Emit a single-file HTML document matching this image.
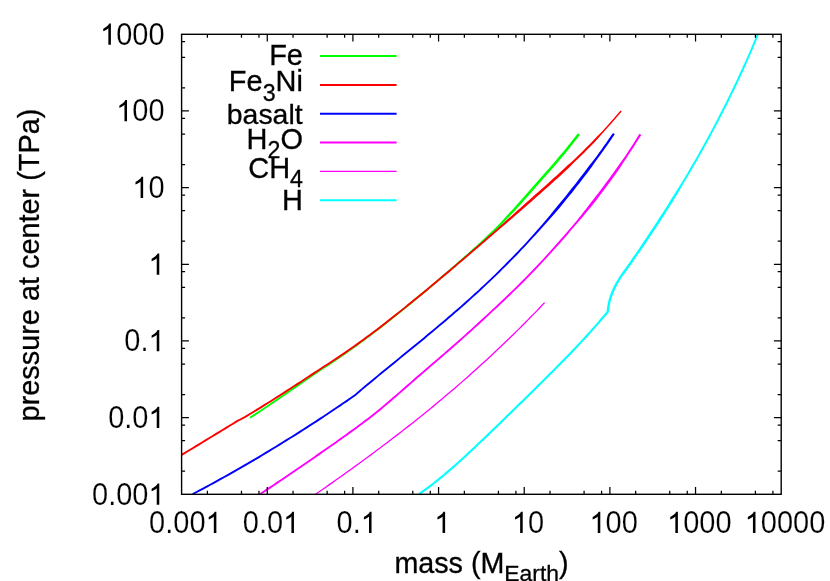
<!DOCTYPE html>
<html><head><meta charset="utf-8"><title>pressure at center vs mass</title>
<style>
html,body{margin:0;padding:0;background:#fff;}
body{width:830px;height:581px;overflow:hidden;}
svg{display:block;will-change:transform;}
text{font-family:"Liberation Sans",sans-serif;fill:#000;stroke:#000;stroke-width:0.3px;}
text.t{stroke:#fff;stroke-width:0.15px;}
</style></head><body>
<svg width="830" height="581" viewBox="0 0 830 581">
<rect x="0" y="0" width="830" height="581" fill="#ffffff"/>
<defs><clipPath id="pc"><rect x="181.60" y="34.30" width="599.60" height="460.00"/></clipPath></defs>
<g clip-path="url(#pc)">
<path d="M250.5 418.6 253.9 416.4 257.2 414.2 260.6 412.0 263.9 409.8 267.2 407.6 270.6 405.3 273.9 403.1 277.2 400.8 280.5 398.6 283.8 396.3 287.1 394.0 290.4 391.8 293.7 389.5 297.0 387.2 300.3 384.9 303.6 382.6 306.9 380.3 310.2 378.1 313.5 375.8 316.8 373.6 320.1 371.3 323.4 369.1 326.8 366.9 330.1 364.7 333.4 362.4 336.8 360.2 340.1 357.9 343.4 355.7 346.7 353.4 350.0 351.1 353.3 348.8 356.5 346.4 359.8 344.1 363.0 341.7 366.2 339.3 369.4 336.9 372.6 334.5 375.8 332.1 379.0 329.7 382.2 327.2 385.4 324.7 388.5 322.3 391.7 319.8 394.8 317.3 397.9 314.8 401.1 312.3 404.2 309.8 407.3 307.2 410.4 304.7 413.5 302.2 416.6 299.6 419.7 297.0 422.8 294.5 425.8 291.9 428.9 289.3 432.0 286.7 435.0 284.2 438.1 281.6 441.1 279.0 444.2 276.4 447.2 273.8 450.3 271.2 453.3 268.5 456.3 265.9 459.4 263.3 462.4 260.6 465.4 258.0 468.4 255.3 471.4 252.7 474.4 250.0 477.4 247.3 480.3 244.6 483.3 241.9 486.3 239.3 489.2 236.5 492.2 233.8 495.1 231.1 498.0 228.3 500.9 225.4 503.7 222.5 506.4 219.6 509.2 216.7 511.9 213.8 514.7 210.9 517.4 207.9 520.1 204.9 522.7 201.9 525.4 199.0 528.1 196.0 530.7 193.0 533.4 189.9 536.0 186.9 538.6 183.9 541.3 180.9 543.9 177.9 546.6 174.9 549.3 171.9 551.9 168.9 554.6 165.9 557.2 162.9 559.8 159.8 562.4 156.7 565.0 153.7 567.5 150.6 570.0 147.4 572.5 144.3 575.0 141.1 577.5 138.0 579.9 134.8 577.9 133.2 575.4 136.4 573.0 139.5 570.5 142.7 568.0 145.8 565.5 148.9 563.0 152.0 560.4 155.1 557.8 158.1 555.2 161.2 552.6 164.2 550.0 167.2 547.3 170.2 544.6 173.2 542.0 176.2 539.3 179.2 536.7 182.2 534.0 185.2 531.4 188.2 528.8 191.2 526.1 194.2 523.5 197.2 520.8 200.2 518.1 203.2 515.5 206.2 512.8 209.2 510.1 212.1 507.4 215.1 504.7 218.1 502.0 221.0 499.3 223.9 496.5 226.8 493.7 229.6 490.8 232.3 487.9 235.1 485.0 237.8 482.0 240.5 479.1 243.2 476.1 245.9 473.1 248.6 470.1 251.3 467.1 253.9 464.1 256.6 461.1 259.2 458.1 261.8 455.1 264.5 452.1 267.1 449.0 269.7 446.0 272.3 442.9 274.9 439.9 277.5 436.9 280.1 433.8 282.7 430.7 285.3 427.7 287.9 424.6 290.5 421.5 293.0 418.5 295.6 415.4 298.1 412.3 300.7 409.2 303.2 406.1 305.8 403.0 308.3 399.9 310.8 396.8 313.3 393.6 315.8 390.5 318.3 387.3 320.8 384.2 323.2 381.0 325.7 377.9 328.1 374.7 330.6 371.5 333.0 368.3 335.4 365.1 337.8 361.9 340.2 358.6 342.5 355.4 344.9 352.2 347.2 348.9 349.5 345.6 351.8 342.3 354.1 339.0 356.4 335.7 358.6 332.4 360.9 329.1 363.1 325.7 365.3 322.4 367.5 319.1 369.8 315.7 372.0 312.4 374.2 309.1 376.5 305.8 378.8 302.5 381.1 299.2 383.3 295.9 385.6 292.6 387.9 289.3 390.2 286.0 392.5 282.7 394.7 279.4 397.0 276.1 399.3 272.8 401.5 269.5 403.7 266.2 406.0 262.9 408.2 259.5 410.4 256.2 412.6 252.8 414.8 249.5 417.0Z" fill="#00ff00"/>
<path d="M182.1 455.8 185.5 453.7 188.9 451.6 192.4 449.5 195.8 447.4 199.2 445.4 202.6 443.3 206.0 441.2 209.5 439.1 212.9 437.0 216.3 435.0 219.7 432.9 223.1 430.8 226.6 428.7 230.0 426.6 233.4 424.5 236.8 422.5 238.0 421.8 240.3 420.6 243.8 418.7 244.6 418.3 247.3 416.7 250.8 414.6 254.2 412.6 257.6 410.5 261.0 408.4 264.4 406.3 267.8 404.1 271.2 402.0 274.6 399.8 278.0 397.7 281.4 395.5 284.7 393.4 288.1 391.2 291.4 389.0 294.8 386.8 298.2 384.7 301.5 382.5 304.9 380.3 308.2 378.1 311.6 375.9 314.9 373.7 318.3 371.5 321.6 369.3 325.0 367.1 328.3 365.0 331.7 362.8 335.0 360.6 338.4 358.4 341.7 356.1 345.0 353.9 348.3 351.6 351.6 349.3 354.9 347.0 358.2 344.7 361.4 342.3 364.7 340.0 367.9 337.6 371.1 335.2 374.3 332.8 377.5 330.4 380.7 328.0 383.9 325.5 387.0 323.1 390.2 320.6 393.3 318.1 396.5 315.6 399.6 313.1 402.7 310.6 405.9 308.1 409.0 305.6 412.1 303.1 415.2 300.6 418.3 298.0 421.4 295.5 424.5 292.9 427.6 290.4 430.6 287.8 433.7 285.3 436.8 282.7 439.9 280.1 442.9 277.5 446.0 275.0 449.1 272.4 452.1 269.8 455.2 267.2 458.2 264.6 461.3 262.0 464.3 259.4 467.4 256.8 470.4 254.2 473.5 251.6 476.5 249.0 479.5 246.4 482.6 243.8 485.6 241.2 488.6 238.6 491.7 235.9 494.7 233.3 497.7 230.7 500.7 228.1 503.8 225.5 506.8 222.9 509.9 220.3 512.9 217.7 515.9 215.0 519.0 212.4 522.0 209.8 525.0 207.2 528.0 204.5 531.0 201.9 534.0 199.2 537.0 196.6 540.0 193.9 543.0 191.3 546.0 188.6 549.0 185.9 552.0 183.2 554.9 180.6 557.9 177.9 560.9 175.2 563.8 172.4 566.8 169.7 569.7 167.0 572.5 164.1 575.3 161.3 578.2 158.5 581.1 155.7 584.0 152.9 586.8 150.1 589.6 147.2 592.4 144.4 595.2 141.5 598.0 138.6 600.6 135.5 603.2 132.5 605.9 129.5 608.6 126.6 611.3 123.6 613.9 120.5 616.5 117.5 619.1 114.4 621.7 111.4 620.5 110.4 618.0 113.5 615.4 116.5 612.8 119.6 610.1 122.6 607.5 125.6 604.8 128.5 602.1 131.5 599.3 134.3 596.5 137.1 593.7 140.0 590.9 142.9 588.1 145.8 585.3 148.6 582.5 151.4 579.6 154.2 576.8 157.0 573.9 159.8 570.9 162.5 567.9 165.1 565.0 167.8 562.1 170.5 559.1 173.2 556.2 175.9 553.2 178.6 550.2 181.3 547.3 184.0 544.3 186.7 541.3 189.3 538.3 192.0 535.3 194.6 532.3 197.3 529.3 199.9 526.3 202.6 523.3 205.2 520.3 207.9 517.3 210.6 514.4 213.3 511.4 215.9 508.4 218.6 505.4 221.3 502.5 223.9 499.5 226.6 496.5 229.3 493.4 231.9 490.4 234.5 487.4 237.1 484.4 239.7 481.3 242.4 478.3 245.0 475.3 247.6 472.2 250.2 469.2 252.8 466.1 255.4 463.1 258.0 460.1 260.6 457.0 263.2 454.0 265.8 450.9 268.4 447.8 270.9 444.8 273.5 441.7 276.1 438.6 278.7 435.6 281.2 432.5 283.8 429.4 286.4 426.3 288.9 423.3 291.5 420.2 294.0 417.1 296.5 414.0 299.1 410.9 301.6 407.8 304.1 404.7 306.7 401.6 309.2 398.4 311.7 395.3 314.1 392.2 316.6 389.0 319.1 385.9 321.6 382.7 324.0 379.5 326.4 376.3 328.9 373.2 331.3 370.0 333.7 366.7 336.1 363.5 338.4 360.3 340.8 357.1 343.1 353.8 345.5 350.5 347.8 347.2 350.0 344.0 352.3 340.6 354.5 337.3 356.8 334.0 359.0 330.6 361.2 327.3 363.4 323.9 365.6 320.6 367.7 317.2 369.9 313.9 372.1 310.5 374.3 307.2 376.5 303.8 378.7 300.5 380.9 297.1 383.1 293.8 385.2 290.4 387.4 287.1 389.6 283.7 391.8 280.3 393.9 277.0 396.1 273.6 398.2 270.2 400.4 266.8 402.5 263.4 404.6 260.0 406.7 256.6 408.8 253.2 410.9 249.8 413.0 246.4 415.1 243.6 416.7 242.9 417.0 239.4 418.9 237.0 420.1 235.8 420.8 232.4 422.9 229.0 425.0 225.6 427.1 222.1 429.2 218.7 431.3 215.3 433.3 211.9 435.4 208.5 437.5 205.0 439.6 201.6 441.7 198.2 443.7 194.8 445.8 191.4 447.9 187.9 450.0 184.5 452.1 181.1 454.1Z" fill="#ff0000"/>
<path d="M193.0 495.0 196.6 493.1 200.1 491.3 203.6 489.4 207.2 487.5 210.7 485.6 214.2 483.7 217.7 481.7 221.2 479.8 224.7 477.8 228.2 475.9 231.7 473.9 235.2 471.9 238.6 470.0 242.1 468.0 245.6 466.0 249.0 464.0 252.5 461.9 255.9 459.9 259.4 457.9 262.8 455.8 266.3 453.8 269.7 451.7 273.1 449.6 276.5 447.5 279.9 445.4 283.3 443.3 286.7 441.2 290.1 439.1 293.5 437.0 296.9 434.9 300.3 432.7 303.7 430.6 307.0 428.4 310.4 426.2 313.8 424.1 317.1 421.9 320.5 419.7 323.8 417.5 327.1 415.3 330.5 413.1 333.8 410.8 337.1 408.6 340.4 406.4 343.7 404.1 347.1 401.9 350.4 399.6 353.6 397.3 356.3 395.4 356.9 394.8 359.9 392.2 362.9 389.6 366.0 387.0 369.1 384.5 372.2 381.9 375.2 379.4 378.3 376.8 381.4 374.3 384.5 371.8 387.6 369.2 390.7 366.7 393.8 364.2 396.9 361.7 400.0 359.1 403.1 356.6 406.2 354.1 409.3 351.5 412.4 349.0 415.5 346.5 418.6 343.9 421.7 341.4 424.8 338.9 427.8 336.3 430.9 333.8 434.0 331.2 437.1 328.6 440.1 326.1 443.2 323.5 446.2 320.9 449.3 318.3 452.3 315.7 455.3 313.1 458.4 310.4 461.4 307.8 464.4 305.2 467.4 302.5 470.4 299.8 473.3 297.1 476.3 294.5 479.3 291.8 482.2 289.0 485.1 286.3 488.0 283.6 490.9 280.8 493.8 278.0 496.7 275.3 499.6 272.5 502.4 269.6 505.3 266.8 508.1 264.0 510.9 261.1 513.7 258.3 516.5 255.4 519.3 252.5 522.0 249.6 524.8 246.7 527.5 243.7 530.2 240.8 532.9 237.8 535.6 234.9 538.3 231.9 540.9 228.9 543.6 225.9 546.3 223.0 549.0 220.0 551.6 217.0 554.3 214.0 556.9 211.0 559.5 207.9 562.1 204.8 564.6 201.7 567.1 198.6 569.6 195.5 572.2 192.4 574.6 189.3 577.1 186.1 579.6 182.9 582.0 179.8 584.5 176.6 586.9 173.4 589.3 170.2 591.7 167.0 593.9 163.7 596.2 160.4 598.6 157.2 601.0 153.9 603.3 150.7 605.6 147.4 607.9 144.2 610.2 140.9 612.5 137.6 614.8 134.3 613.0 133.1 610.7 136.3 608.4 139.6 606.1 142.9 603.8 146.1 601.5 149.4 599.2 152.6 596.8 155.9 594.5 159.1 592.0 162.3 589.5 165.3 587.1 168.5 584.7 171.7 582.2 174.9 579.8 178.1 577.4 181.2 574.9 184.4 572.4 187.5 570.0 190.6 567.5 193.8 565.0 196.9 562.4 200.0 559.9 203.1 557.4 206.1 554.8 209.2 552.3 212.3 549.8 215.4 547.2 218.5 544.7 221.6 542.1 224.6 539.5 227.6 536.8 230.6 534.2 233.6 531.5 236.6 528.8 239.5 526.1 242.5 523.4 245.4 520.6 248.3 517.9 251.2 515.1 254.1 512.3 256.9 509.5 259.8 506.7 262.6 503.9 265.5 501.1 268.3 498.3 271.1 495.4 273.9 492.5 276.7 489.6 279.4 486.7 282.2 483.8 284.9 480.9 287.6 478.0 290.4 475.0 293.1 472.1 295.7 469.1 298.4 466.1 301.1 463.1 303.7 460.1 306.4 457.1 309.0 454.1 311.6 451.1 314.2 448.0 316.8 445.0 319.4 442.0 322.0 438.9 324.6 435.8 327.2 432.8 329.7 429.7 332.3 426.6 334.8 423.6 337.4 420.5 339.9 417.4 342.5 414.3 345.0 411.2 347.5 408.1 350.1 405.0 352.6 401.9 355.1 398.8 357.7 395.7 360.2 392.6 362.7 389.5 365.2 386.4 367.8 383.3 370.3 380.2 372.8 377.1 375.4 374.0 377.9 370.9 380.5 367.9 383.0 364.8 385.6 361.7 388.2 358.7 390.7 355.6 393.4 355.1 393.9 352.5 395.7 349.3 398.0 346.0 400.3 342.7 402.5 339.4 404.8 336.1 407.0 332.7 409.3 329.4 411.5 326.1 413.7 322.8 415.9 319.4 418.1 316.1 420.3 312.7 422.5 309.4 424.6 306.0 426.8 302.6 429.0 299.3 431.1 295.9 433.3 292.5 435.4 289.1 437.5 285.7 439.6 282.3 441.7 278.9 443.8 275.5 445.9 272.1 448.0 268.7 450.1 265.3 452.1 261.8 454.2 258.4 456.2 255.0 458.3 251.5 460.3 248.1 462.3 244.6 464.3 241.2 466.3 237.7 468.3 234.2 470.3 230.7 472.3 227.3 474.2 223.8 476.2 220.3 478.1 216.8 480.1 213.3 482.0 209.8 483.9 206.3 485.8 202.7 487.7 199.2 489.6 195.7 491.5 192.2 493.3Z" fill="#0000ff"/>
<path d="M260.8 494.8 264.2 492.6 267.5 490.4 270.8 488.2 274.1 485.9 277.5 483.7 280.8 481.5 284.1 479.3 287.4 477.0 290.7 474.8 294.0 472.5 297.3 470.3 300.6 468.0 303.9 465.8 307.2 463.5 310.5 461.2 313.8 458.9 317.0 456.7 320.3 454.4 323.6 452.1 326.9 449.8 330.1 447.5 333.4 445.2 336.7 442.9 340.0 440.6 343.2 438.3 346.5 436.0 349.7 433.7 353.0 431.3 356.2 429.0 359.4 426.6 362.6 424.2 365.8 421.8 369.0 419.4 372.1 416.9 375.3 414.4 378.4 411.9 381.5 409.4 384.6 406.8 387.6 404.2 390.7 401.7 393.7 399.1 396.7 396.4 399.7 393.8 402.7 391.2 405.8 388.6 408.8 385.9 411.8 383.3 414.8 380.7 417.8 378.1 420.8 375.5 423.8 372.8 426.9 370.2 429.9 367.6 432.9 365.0 435.9 362.4 439.0 359.8 442.0 357.2 445.0 354.6 448.0 352.0 451.0 349.4 454.1 346.7 457.1 344.1 460.1 341.4 463.0 338.8 466.0 336.1 469.0 333.5 472.0 330.8 474.9 328.1 477.9 325.4 480.8 322.7 483.8 320.0 486.7 317.3 489.6 314.6 492.5 311.8 495.5 309.1 498.4 306.4 501.3 303.6 504.2 300.9 507.1 298.1 510.0 295.4 512.8 292.6 515.7 289.8 518.6 287.0 521.4 284.2 524.2 281.4 527.0 278.5 529.8 275.7 532.6 272.8 535.4 269.9 538.1 267.0 540.9 264.1 543.6 261.1 546.3 258.2 549.0 255.3 551.7 252.3 554.4 249.3 557.0 246.4 559.7 243.4 562.3 240.4 565.0 237.4 567.6 234.4 570.2 231.3 572.8 228.3 575.4 225.3 578.0 222.2 580.6 219.2 583.2 216.2 585.8 213.1 588.3 210.0 590.9 206.9 593.4 203.8 595.9 200.7 598.3 197.5 600.7 194.3 603.2 191.1 605.5 187.9 607.9 184.7 610.3 181.5 612.6 178.2 615.0 175.0 617.3 171.7 619.6 168.4 621.8 165.1 623.9 161.7 626.1 158.4 628.3 155.0 630.5 151.7 632.7 148.4 634.9 145.0 637.0 141.6 639.2 138.2 641.3 134.9 639.5 133.7 637.4 137.1 635.3 140.5 633.1 143.9 631.0 147.2 628.8 150.5 626.6 153.9 624.4 157.2 622.1 160.5 619.7 163.7 617.4 166.9 615.1 170.2 612.8 173.4 610.4 176.7 608.1 179.9 605.8 183.1 603.4 186.3 601.0 189.5 598.6 192.7 596.2 195.8 593.7 199.0 591.3 202.1 588.8 205.3 586.4 208.4 583.9 211.6 581.5 214.7 579.0 217.8 576.5 220.9 573.9 224.0 571.4 227.1 568.8 230.1 566.2 233.1 563.6 236.1 560.9 239.1 558.3 242.1 555.6 245.1 553.0 248.1 550.3 251.0 547.6 254.0 544.9 256.9 542.2 259.9 539.5 262.8 536.7 265.7 534.0 268.6 531.2 271.5 528.5 274.3 525.7 277.2 522.9 280.0 520.1 282.8 517.2 285.7 514.4 288.5 511.5 291.2 508.6 294.0 505.8 296.8 502.9 299.5 500.0 302.3 497.1 305.0 494.2 307.7 491.2 310.4 488.3 313.2 485.4 315.9 482.5 318.6 479.5 321.3 476.6 324.0 473.6 326.7 470.7 329.4 467.7 332.0 464.8 334.7 461.8 337.4 458.8 340.0 455.8 342.7 452.8 345.3 449.8 347.9 446.8 350.5 443.8 353.2 440.7 355.8 437.7 358.4 434.7 361.0 431.7 363.6 428.6 366.2 425.6 368.8 422.6 371.4 419.6 374.0 416.5 376.6 413.5 379.3 410.5 381.9 407.5 384.5 404.5 387.1 401.5 389.8 398.5 392.4 395.5 395.0 392.5 397.6 389.4 400.2 386.4 402.8 383.3 405.4 380.3 407.9 377.2 410.4 374.1 412.9 370.9 415.4 367.8 417.9 364.6 420.3 361.5 422.7 358.3 425.1 355.1 427.4 351.8 429.8 348.6 432.1 345.4 434.5 342.1 436.8 338.9 439.1 335.6 441.4 332.3 443.7 329.1 446.0 325.8 448.3 322.5 450.5 319.2 452.8 316.0 455.1 312.7 457.4 309.4 459.7 306.1 461.9 302.8 464.2 299.5 466.4 296.2 468.7 292.9 471.0 289.6 473.2 286.3 475.5 283.0 477.7 279.7 479.9 276.4 482.1 273.1 484.4 269.8 486.6 266.4 488.8 263.1 491.0 259.8 493.2Z" fill="#ff00ff"/>
<path d="M316.0 494.8 319.2 492.6 322.5 490.3 325.8 488.0 329.1 485.7 332.3 483.4 335.6 481.1 338.8 478.8 342.1 476.5 345.3 474.2 348.6 471.8 351.8 469.5 355.0 467.2 358.3 464.8 361.5 462.5 364.7 460.1 367.9 457.8 371.1 455.4 374.3 453.0 377.6 450.6 380.7 448.2 383.9 445.8 387.1 443.4 390.3 441.0 393.5 438.6 396.6 436.2 399.8 433.7 402.9 431.3 406.1 428.8 409.2 426.4 412.4 423.9 415.5 421.4 418.6 418.9 421.7 416.4 424.8 413.9 427.9 411.4 431.0 408.9 434.1 406.4 437.2 403.8 440.3 401.3 443.3 398.7 446.4 396.1 449.4 393.6 452.5 391.0 455.5 388.4 458.5 385.8 461.5 383.1 464.5 380.5 467.5 377.9 470.5 375.2 473.5 372.6 476.5 369.9 479.4 367.2 482.4 364.6 485.3 361.9 488.3 359.2 491.2 356.5 494.1 353.7 497.0 351.0 499.9 348.3 502.8 345.5 505.7 342.8 508.6 340.0 511.4 337.2 514.3 334.4 517.1 331.6 520.0 328.8 522.8 326.0 525.6 323.2 528.4 320.3 531.2 317.5 534.0 314.6 536.8 311.8 539.6 308.9 542.3 306.0 545.1 303.1 544.1 302.2 541.4 305.1 538.6 308.0 535.9 310.9 533.1 313.7 530.3 316.6 527.5 319.4 524.7 322.3 521.9 325.1 519.1 327.9 516.2 330.7 513.4 333.5 510.5 336.3 507.7 339.1 504.8 341.8 501.9 344.6 499.0 347.3 496.1 350.1 493.2 352.8 490.3 355.5 487.4 358.2 484.4 360.9 481.5 363.6 478.5 366.3 475.6 369.0 472.6 371.6 469.6 374.3 466.7 376.9 463.7 379.5 460.7 382.2 457.7 384.8 454.6 387.4 451.6 390.0 448.6 392.6 445.5 395.1 442.5 397.7 439.4 400.3 436.4 402.8 433.3 405.3 430.2 407.9 427.1 410.4 424.0 412.9 420.9 415.4 417.8 417.9 414.7 420.4 411.6 422.9 408.4 425.3 405.3 427.8 402.1 430.3 399.0 432.7 395.8 435.1 392.7 437.6 389.5 440.0 386.3 442.4 383.2 444.8 380.0 447.2 376.8 449.6 373.6 452.0 370.4 454.3 367.2 456.7 364.0 459.1 360.7 461.4 357.5 463.8 354.3 466.1 351.1 468.5 347.8 470.8 344.6 473.1 341.3 475.4 338.1 477.7 334.8 480.0 331.6 482.3 328.3 484.6 325.0 486.9 321.8 489.2 318.5 491.5 315.2 493.8Z" fill="#ff00ff"/>
<path d="M419.6 495.0 422.1 493.3 424.5 491.5 427.0 489.8 429.4 488.0 431.8 486.2 434.1 484.3 436.5 482.5 438.9 480.6 441.2 478.7 443.5 476.8 445.8 474.8 448.1 472.9 450.3 470.9 452.6 469.0 454.9 467.0 457.1 465.0 459.3 463.0 461.6 461.0 463.8 458.9 466.0 456.9 468.2 454.9 470.4 452.8 472.6 450.8 474.8 448.7 477.0 446.7 479.1 444.6 481.3 442.6 483.5 440.5 485.7 438.4 487.8 436.4 490.0 434.3 492.1 432.2 494.3 430.1 496.5 428.0 498.6 426.0 500.8 423.9 502.9 421.8 505.1 419.7 507.2 417.6 509.4 415.5 511.5 413.4 513.6 411.3 515.8 409.2 517.9 407.1 520.1 405.0 522.2 403.0 524.4 400.9 526.5 398.8 528.6 396.7 530.8 394.6 532.9 392.5 535.0 390.4 537.2 388.2 539.3 386.1 541.4 384.0 543.6 381.9 545.7 379.8 547.8 377.7 549.9 375.6 552.1 373.5 554.2 371.3 556.3 369.2 558.4 367.1 560.5 365.0 562.6 362.8 564.7 360.7 566.8 358.5 568.9 356.4 571.0 354.2 573.1 352.1 575.1 349.9 577.2 347.7 579.2 345.5 581.3 343.3 583.3 341.1 585.4 338.9 587.4 336.7 589.4 334.5 591.4 332.3 593.4 330.0 595.4 327.8 597.4 325.5 599.4 323.3 601.3 321.0 603.2 318.7 605.2 316.4 607.2 314.3 608.6 312.8 608.9 311.2 609.4 308.2 609.9 305.3 610.4 302.4 611.1 299.6 612.0 296.8 613.1 294.0 614.2 291.3 615.4 288.6 616.7 285.9 618.1 283.3 619.6 280.8 621.2 278.3 622.8 275.8 624.6 273.4 626.4 271.0 628.1 268.6 629.9 266.1 631.6 263.7 633.3 261.2 635.0 258.8 636.7 256.3 638.4 253.8 640.1 251.4 641.8 248.9 643.5 246.4 645.2 243.9 646.9 241.4 648.5 238.9 650.2 236.4 651.9 233.9 653.5 231.4 655.2 228.9 656.8 226.4 658.5 223.9 660.1 221.4 661.7 218.9 663.3 216.4 665.0 213.8 666.6 211.3 668.2 208.8 669.8 206.2 671.4 203.7 673.0 201.2 674.5 198.6 676.1 196.1 677.7 193.5 679.2 190.9 680.7 188.3 682.2 185.7 683.7 183.1 685.2 180.6 686.8 178.0 688.3 175.4 689.8 172.8 691.4 170.2 692.9 167.6 694.4 165.1 695.9 162.5 697.4 159.9 698.8 157.2 700.3 154.6 701.8 152.0 703.3 149.4 704.7 146.8 706.2 144.2 707.6 141.5 709.1 138.9 710.5 136.3 711.9 133.6 713.3 131.0 714.7 128.3 716.1 125.7 717.5 123.0 718.9 120.4 720.3 117.7 721.7 115.1 723.1 112.4 724.4 109.7 725.8 107.0 727.1 104.4 728.5 101.7 729.8 99.0 731.1 96.3 732.4 93.6 733.7 90.9 735.0 88.2 736.3 85.5 737.6 82.8 738.9 80.1 740.2 77.4 741.4 74.6 742.7 71.9 743.9 69.2 745.2 66.5 746.4 63.7 747.6 61.0 748.8 58.2 750.0 55.5 751.2 52.7 752.4 50.0 753.6 47.2 754.7 44.5 755.9 41.7 757.0 38.9 758.2 36.2 759.3 33.4 757.5 32.6 756.3 35.4 755.2 38.2 754.1 40.9 752.9 43.7 751.7 46.4 750.6 49.2 749.4 51.9 748.2 54.7 747.0 57.4 745.8 60.2 744.5 62.9 743.3 65.6 742.1 68.4 740.8 71.1 739.6 73.8 738.3 76.5 737.1 79.2 735.8 81.9 734.5 84.6 733.2 87.3 731.9 90.0 730.6 92.7 729.3 95.4 728.0 98.1 726.7 100.8 725.3 103.5 724.0 106.1 722.6 108.8 721.3 111.5 719.9 114.1 718.5 116.8 717.2 119.5 715.8 122.1 714.4 124.8 713.0 127.4 711.6 130.1 710.2 132.7 708.7 135.3 707.3 138.0 705.9 140.6 704.4 143.2 703.0 145.8 701.5 148.4 700.0 151.0 698.6 153.7 697.1 156.3 695.6 158.9 694.1 161.5 692.6 164.1 691.1 166.6 689.6 169.2 688.1 171.8 686.6 174.4 685.1 177.0 683.5 179.5 682.0 182.1 680.4 184.6 678.8 187.2 677.2 189.7 675.6 192.2 674.0 194.8 672.4 197.3 670.8 199.8 669.2 202.4 667.7 204.9 666.1 207.5 664.5 210.0 662.9 212.5 661.2 215.0 659.6 217.5 658.0 220.1 656.4 222.6 654.7 225.1 653.1 227.6 651.4 230.1 649.8 232.6 648.1 235.1 646.5 237.6 644.8 240.0 643.1 242.5 641.4 245.0 639.8 247.5 638.1 249.9 636.4 252.4 634.7 254.9 633.0 257.3 631.3 259.8 629.6 262.3 627.8 264.7 626.1 267.2 624.4 269.6 622.6 272.0 620.9 274.5 619.2 277.0 617.6 279.5 616.0 282.2 614.6 284.8 613.2 287.6 612.0 290.3 610.8 293.1 609.8 296.0 608.8 298.9 608.1 301.9 607.5 304.9 607.0 307.8 606.6 310.8 606.6 311.6 605.6 312.8 603.6 315.0 601.6 317.3 599.7 319.6 597.8 321.9 595.8 324.2 593.8 326.4 591.9 328.6 589.9 330.9 587.9 333.1 585.8 335.3 583.8 337.5 581.8 339.7 579.8 341.9 577.7 344.1 575.7 346.3 573.6 348.4 571.5 350.6 569.5 352.8 567.4 354.9 565.3 357.1 563.2 359.2 561.1 361.3 559.0 363.5 556.9 365.6 554.8 367.7 552.7 369.9 550.6 372.0 548.5 374.1 546.3 376.2 544.2 378.3 542.1 380.4 540.0 382.5 537.8 384.6 535.7 386.8 533.6 388.9 531.4 391.0 529.3 393.1 527.2 395.2 525.0 397.3 522.9 399.4 520.7 401.4 518.6 403.5 516.5 405.6 514.3 407.7 512.2 409.8 510.0 411.9 507.9 414.0 505.7 416.1 503.6 418.2 501.4 420.3 499.3 422.4 497.1 424.5 495.0 426.5 492.8 428.6 490.7 430.7 488.5 432.8 486.4 434.8 484.2 436.9 482.0 439.0 479.9 441.0 477.7 443.1 475.5 445.2 473.3 447.2 471.2 449.3 469.0 451.3 466.8 453.3 464.6 455.4 462.4 457.4 460.2 459.4 457.9 461.4 455.7 463.4 453.5 465.4 451.2 467.4 449.0 469.3 446.7 471.3 444.4 473.2 442.1 475.2 439.8 477.1 437.5 479.0 435.2 480.8 432.9 482.7 430.5 484.5 428.1 486.3 425.7 488.1 423.3 489.8 420.9 491.6 418.4 493.3Z" fill="#00ffff"/>
</g>
<line x1="320" y1="56.1" x2="396.6" y2="56.1" stroke="#00ff00" stroke-width="2.00"/>
<text transform="translate(303.0,65.0) scale(1,1.025)" font-size="29.00" text-anchor="end">Fe</text>
<line x1="320" y1="84.9" x2="396.6" y2="84.9" stroke="#ff0000" stroke-width="2.00"/>
<text transform="translate(303.0,91.3) scale(1,1.025)" font-size="29.00" text-anchor="end">Fe<tspan font-size="23.2" dy="9.2">3</tspan><tspan font-size="29.0" dy="-9.2">Ni</tspan></text>
<line x1="320" y1="113.8" x2="396.6" y2="113.8" stroke="#0000ff" stroke-width="2.00"/>
<text transform="translate(302.6,123.8) scale(1,1.000)" font-size="28.42" text-anchor="end">basalt</text>
<line x1="320" y1="142.6" x2="396.6" y2="142.6" stroke="#ff00ff" stroke-width="2.00"/>
<text transform="translate(303.0,149.0) scale(1,1.025)" font-size="29.00" text-anchor="end">H<tspan font-size="23.2" dy="9.2">2</tspan><tspan font-size="29.0" dy="-9.2">O</tspan></text>
<line x1="320" y1="171.4" x2="396.6" y2="171.4" stroke="#ff00ff" stroke-width="1.35"/>
<text transform="translate(303.0,177.8) scale(1,1.025)" font-size="29.00" text-anchor="end">CH<tspan font-size="23.2" dy="9.2">4</tspan></text>
<line x1="320" y1="200.2" x2="396.6" y2="200.2" stroke="#00ffff" stroke-width="2.00"/>
<text transform="translate(303.0,210.0) scale(1,1.025)" font-size="29.00" text-anchor="end">H</text>
<rect x="181.60" y="34.30" width="599.60" height="460.00" fill="none" stroke="#000" stroke-width="1.40"/>
<path d="M207.39 494.30v-3.50 M207.39 34.30v3.50 M241.47 494.30v-3.50 M241.47 34.30v3.50 M258.96 494.30v-3.50 M258.96 34.30v3.50 M267.26 494.30v-7.30 M267.26 34.30v7.30 M293.04 494.30v-3.50 M293.04 34.30v3.50 M327.13 494.30v-3.50 M327.13 34.30v3.50 M344.61 494.30v-3.50 M344.61 34.30v3.50 M352.91 494.30v-7.30 M352.91 34.30v7.30 M378.70 494.30v-3.50 M378.70 34.30v3.50 M412.79 494.30v-3.50 M412.79 34.30v3.50 M430.27 494.30v-3.50 M430.27 34.30v3.50 M438.57 494.30v-7.30 M438.57 34.30v7.30 M464.36 494.30v-3.50 M464.36 34.30v3.50 M498.44 494.30v-3.50 M498.44 34.30v3.50 M515.93 494.30v-3.50 M515.93 34.30v3.50 M524.23 494.30v-7.30 M524.23 34.30v7.30 M550.01 494.30v-3.50 M550.01 34.30v3.50 M584.10 494.30v-3.50 M584.10 34.30v3.50 M601.58 494.30v-3.50 M601.58 34.30v3.50 M609.89 494.30v-7.30 M609.89 34.30v7.30 M635.67 494.30v-3.50 M635.67 34.30v3.50 M669.76 494.30v-3.50 M669.76 34.30v3.50 M687.24 494.30v-3.50 M687.24 34.30v3.50 M695.54 494.30v-7.30 M695.54 34.30v7.30 M721.33 494.30v-3.50 M721.33 34.30v3.50 M755.41 494.30v-3.50 M755.41 34.30v3.50 M772.90 494.30v-3.50 M772.90 34.30v3.50 M181.60 471.22h3.50 M781.20 471.22h-3.50 M181.60 440.71h3.50 M781.20 440.71h-3.50 M181.60 425.06h3.50 M781.20 425.06h-3.50 M181.60 417.63h7.30 M781.20 417.63h-7.30 M181.60 394.55h3.50 M781.20 394.55h-3.50 M181.60 364.05h3.50 M781.20 364.05h-3.50 M181.60 348.40h3.50 M781.20 348.40h-3.50 M181.60 340.97h7.30 M781.20 340.97h-7.30 M181.60 317.89h3.50 M781.20 317.89h-3.50 M181.60 287.38h3.50 M781.20 287.38h-3.50 M181.60 271.73h3.50 M781.20 271.73h-3.50 M181.60 264.30h7.30 M781.20 264.30h-7.30 M181.60 241.22h3.50 M781.20 241.22h-3.50 M181.60 210.71h3.50 M781.20 210.71h-3.50 M181.60 195.06h3.50 M781.20 195.06h-3.50 M181.60 187.63h7.30 M781.20 187.63h-7.30 M181.60 164.55h3.50 M781.20 164.55h-3.50 M181.60 134.05h3.50 M781.20 134.05h-3.50 M181.60 118.40h3.50 M781.20 118.40h-3.50 M181.60 110.97h7.30 M781.20 110.97h-7.30 M181.60 87.89h3.50 M781.20 87.89h-3.50 M181.60 57.38h3.50 M781.20 57.38h-3.50 M181.60 41.73h3.50 M781.20 41.73h-3.50" fill="none" stroke="#000" stroke-width="1.25"/>
<text class="t" transform="translate(92.03,504.70) scale(1,1.075)" font-size="29.0">0.00</text>
<path d="M763 0H583V1147Q518 1085 412.5 1023Q307 961 223 930V1104Q374 1175 487 1276Q600 1377 647 1472H763Z" transform="translate(148.47,504.70) scale(0.01416,-0.01444)" fill="#000"/>
<text class="t" transform="translate(108.16,428.03) scale(1,1.075)" font-size="29.0">0.0</text>
<path d="M763 0H583V1147Q518 1085 412.5 1023Q307 961 223 930V1104Q374 1175 487 1276Q600 1377 647 1472H763Z" transform="translate(148.47,428.03) scale(0.01416,-0.01444)" fill="#000"/>
<text class="t" transform="translate(124.29,351.37) scale(1,1.075)" font-size="29.0">0.</text>
<path d="M763 0H583V1147Q518 1085 412.5 1023Q307 961 223 930V1104Q374 1175 487 1276Q600 1377 647 1472H763Z" transform="translate(148.47,351.37) scale(0.01416,-0.01444)" fill="#000"/>
<path d="M763 0H583V1147Q518 1085 412.5 1023Q307 961 223 930V1104Q374 1175 487 1276Q600 1377 647 1472H763Z" transform="translate(148.47,274.70) scale(0.01416,-0.01444)" fill="#000"/>
<path d="M763 0H583V1147Q518 1085 412.5 1023Q307 961 223 930V1104Q374 1175 487 1276Q600 1377 647 1472H763Z" transform="translate(132.34,198.03) scale(0.01416,-0.01444)" fill="#000"/>
<text class="t" transform="translate(148.47,198.03) scale(1,1.075)" font-size="29.0">0</text>
<path d="M763 0H583V1147Q518 1085 412.5 1023Q307 961 223 930V1104Q374 1175 487 1276Q600 1377 647 1472H763Z" transform="translate(116.21,121.37) scale(0.01416,-0.01444)" fill="#000"/>
<text class="t" transform="translate(132.34,121.37) scale(1,1.075)" font-size="29.0">00</text>
<path d="M763 0H583V1147Q518 1085 412.5 1023Q307 961 223 930V1104Q374 1175 487 1276Q600 1377 647 1472H763Z" transform="translate(100.09,44.70) scale(0.01416,-0.01444)" fill="#000"/>
<text class="t" transform="translate(116.21,44.70) scale(1,1.075)" font-size="29.0">000</text>
<text class="t" transform="translate(149.11,533.00) scale(1,1.075)" font-size="29.0">0.00</text>
<path d="M763 0H583V1147Q518 1085 412.5 1023Q307 961 223 930V1104Q374 1175 487 1276Q600 1377 647 1472H763Z" transform="translate(205.56,533.00) scale(0.01416,-0.01444)" fill="#000"/>
<text class="t" transform="translate(242.84,533.00) scale(1,1.075)" font-size="29.0">0.0</text>
<path d="M763 0H583V1147Q518 1085 412.5 1023Q307 961 223 930V1104Q374 1175 487 1276Q600 1377 647 1472H763Z" transform="translate(283.15,533.00) scale(0.01416,-0.01444)" fill="#000"/>
<text class="t" transform="translate(336.56,533.00) scale(1,1.075)" font-size="29.0">0.</text>
<path d="M763 0H583V1147Q518 1085 412.5 1023Q307 961 223 930V1104Q374 1175 487 1276Q600 1377 647 1472H763Z" transform="translate(360.74,533.00) scale(0.01416,-0.01444)" fill="#000"/>
<path d="M763 0H583V1147Q518 1085 412.5 1023Q307 961 223 930V1104Q374 1175 487 1276Q600 1377 647 1472H763Z" transform="translate(434.31,533.00) scale(0.01416,-0.01444)" fill="#000"/>
<path d="M763 0H583V1147Q518 1085 412.5 1023Q307 961 223 930V1104Q374 1175 487 1276Q600 1377 647 1472H763Z" transform="translate(511.90,533.00) scale(0.01416,-0.01444)" fill="#000"/>
<text class="t" transform="translate(528.03,533.00) scale(1,1.075)" font-size="29.0">0</text>
<path d="M763 0H583V1147Q518 1085 412.5 1023Q307 961 223 930V1104Q374 1175 487 1276Q600 1377 647 1472H763Z" transform="translate(589.49,533.00) scale(0.01416,-0.01444)" fill="#000"/>
<text class="t" transform="translate(605.62,533.00) scale(1,1.075)" font-size="29.0">00</text>
<path d="M763 0H583V1147Q518 1085 412.5 1023Q307 961 223 930V1104Q374 1175 487 1276Q600 1377 647 1472H763Z" transform="translate(667.09,533.00) scale(0.01416,-0.01444)" fill="#000"/>
<text class="t" transform="translate(683.21,533.00) scale(1,1.075)" font-size="29.0">000</text>
<path d="M763 0H583V1147Q518 1085 412.5 1023Q307 961 223 930V1104Q374 1175 487 1276Q600 1377 647 1472H763Z" transform="translate(744.68,533.00) scale(0.01416,-0.01444)" fill="#000"/>
<text class="t" transform="translate(760.81,533.00) scale(1,1.075)" font-size="29.0">0000</text>
<text x="481.5" y="572.8" font-size="28.7" text-anchor="middle">mass (M<tspan font-size="22.9" dy="8.4">Earth</tspan><tspan font-size="28.7" dy="-8.4">)</tspan></text>
<text transform="translate(38.6,265) rotate(-90)" font-size="28.86" text-anchor="middle">pressure at center (TPa)</text>
</svg></body></html>
